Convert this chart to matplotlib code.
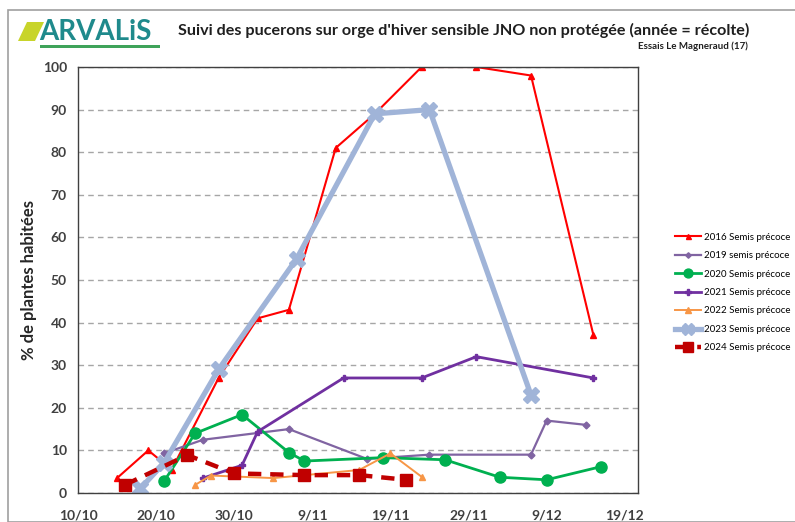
import datetime as dt
import matplotlib
matplotlib.use("Agg")
import matplotlib.pyplot as plt
from matplotlib.patches import Polygon, Rectangle

plt.rcParams['font.family'] = ['Lato', 'DejaVu Sans']

# ---- data (dates dd/mm, % plantes habitées) ----
d2016 = ["15/10", "19/10", "22/10", "28/10", "2/11", "6/11", "12/11", "17/11", "23/11", "30/11", "7/12", "15/12"]
v2016 = [3.5, 10, 5.5, 27, 41, 43, 81, 89, 100, 100, 98, 37]

d2019 = ["21/10", "26/10", "6/11", "16/11", "24/11", "7/12", "9/12", "14/12"]
v2019 = [9.3, 12.5, 15, 8, 9, 9, 17, 16]

d2020 = ["21/10", "25/10", "31/10", "6/11", "8/11", "18/11", "26/11", "3/12", "9/12", "16/12"]
v2020 = [2.7, 14, 18.4, 9.5, 7.5, 8.3, 7.8, 3.7, 3.1, 6.2]

d2021 = ["26/10", "31/10", "2/11", "13/11", "23/11", "30/11", "15/12"]
v2021 = [3.5, 6.5, 14.4, 27, 27, 32, 27]

d2022 = ["25/10", "27/10", "4/11", "15/11", "19/11", "23/11"]
v2022 = [1.9, 4.1, 3.5, 5.4, 9.3, 3.8]

d2023 = ["18/10", "21/10", "28/10", "7/11", "17/11", "24/11", "7/12"]
v2023 = [1.1, 7, 29, 55, 89, 90, 23]

d2024 = ["16/10", "24/10", "30/10", "8/11", "15/11", "21/11"]
v2024 = [1.9, 8.9, 4.6, 4.2, 4.2, 3.1]

series_labels = ["2016 Semis précoce", "2019 semis précoce", "2020 Semis précoce",
                 "2021 Semis précoce", "2022 Semis précoce", "2023 Semis précoce",
                 "2024 Semis précoce"]
xtick_labels = ["10/10", "20/10", "30/10", "9/11", "19/11", "29/11", "9/12", "19/12"]
yticks = [0, 10, 20, 30, 40, 50, 60, 70, 80, 90, 100]

title = "Suivi des pucerons sur orge d'hiver sensible JNO non protégée (année = récolte)"
subtitle = "Essais Le Magneraud (17)"
ylabel = "% de plantes habitées"


def to_date(s):
    d, m = s.split("/")
    return dt.datetime(2000, int(m), int(d))


fig = plt.figure(figsize=(7.95, 5.22), dpi=100)
ax = fig.add_axes([78 / 795, 1 - 493 / 522, (638 - 78) / 795, (493 - 67) / 522])

styles = [
    dict(color="#FF0000", lw=1.5, marker="^", ms=4.5, ls="-"),
    dict(color="#8064A2", lw=1.6, marker="D", ms=3.5, ls="-"),
    dict(color="#00B050", lw=2.0, marker="o", ms=8, ls="-"),
    dict(color="#7030A0", lw=2.0, marker="P", ms=5, ls="-"),
    dict(color="#F79646", lw=1.4, marker="^", ms=5, ls="-"),
    dict(color="#A0B4D8", lw=3.8, marker="X", ms=11, ls="-"),
    dict(color="#C00000", lw=3.2, marker="s", ms=9, ls=(0, (3, 2))),
]
all_dates = [d2016, d2019, d2020, d2021, d2022, d2023, d2024]
all_vals = [v2016, v2019, v2020, v2021, v2022, v2023, v2024]

for dates, vals, st, lab in zip(all_dates, all_vals, styles, series_labels):
    ax.plot([to_date(s) for s in dates], vals, label=lab, **st)

start = to_date("10/10")
ax.set_xlim(start, start + dt.timedelta(days=71.7))
ax.set_xticks([to_date(s) for s in xtick_labels])
ax.set_xticklabels(xtick_labels)
ax.set_ylim(0, 100)
ax.set_yticks(yticks)
ax.tick_params(length=0, labelsize=10, colors="#404040", pad=8)
for lbl in ax.get_xticklabels() + ax.get_yticklabels():
    lbl.set_fontweight("bold")
ax.tick_params(axis="x", pad=12)
ax.yaxis.grid(True, ls=(0, (4, 3)), color="#A6A6A6", lw=1)
ax.set_axisbelow(True)
for sp in ax.spines.values():
    sp.set_color("#404040")
    sp.set_linewidth(1.0)
ax.set_ylabel(ylabel, fontsize=12, fontweight="bold", color="#262626", labelpad=4)

leg = fig.legend(loc="upper left", bbox_to_anchor=(666 / 795, 1 - 224 / 522),
                 frameon=False, fontsize=7.0, handlelength=2.7, labelspacing=0.97,
                 handletextpad=0.3, markerscale=0.8)

# title / subtitle
fig.text(178 / 795, 1 - 30 / 522, title, fontsize=11.6, fontweight="bold",
         color="#1F1F1F", va="center", ha="left")
fig.text(748 / 795, 1 - 46 / 522, subtitle, fontsize=7, fontweight="bold",
         color="#1F1F1F", va="center", ha="right")

# logo
fig.text(39 / 795, 1 - 32 / 522, "ARVALiS", fontsize=20, fontweight="bold",
         color="#1F8A8C", va="center", ha="left")
fig.patches.append(Polygon([(18 / 795, 1 - 41 / 522), (27 / 795, 1 - 22 / 522),
                            (44 / 795, 1 - 22 / 522), (35 / 795, 1 - 41 / 522)],
                           closed=True, transform=fig.transFigure,
                           facecolor="#C8D42A", edgecolor="none"))
fig.patches.append(Rectangle((40 / 795, 1 - 48 / 522), 120 / 795, 2.5 / 522,
                             transform=fig.transFigure, facecolor="#3FA35A",
                             edgecolor="none"))

# outer frame
fig.patches.append(Rectangle((8 / 795, 0), 1.0, 1 - 10 / 522,
                             transform=fig.transFigure, fill=False,
                             edgecolor="#A0A0A0", lw=1.2))

fig.savefig("out.png", dpi=100)
